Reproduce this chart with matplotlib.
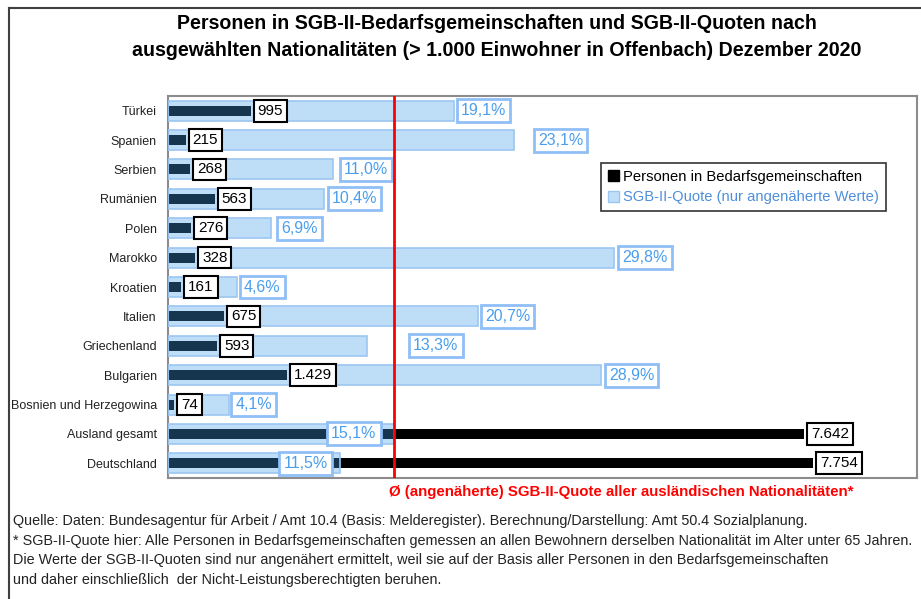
import matplotlib
matplotlib.use('Agg')
import matplotlib.pyplot as plt
from matplotlib import font_manager
from matplotlib.patches import Patch
from matplotlib.lines import Line2D

names = {f.name for f in font_manager.fontManager.ttflist}
narrow = 'Liberation Sans Narrow' if 'Liberation Sans Narrow' in names else 'Liberation Sans'
plt.rcParams['font.family'] = [narrow, 'DejaVu Sans']

countries = ['Türkei', 'Spanien', 'Serbien', 'Rumänien', 'Polen', 'Marokko', 'Kroatien',
             'Italien', 'Griechenland', 'Bulgarien', 'Bosnien und Herzegowina',
             'Ausland gesamt', 'Deutschland']
persons = [995, 215, 268, 563, 276, 328, 161, 675, 593, 1429, 74, 7642, 7754]
quote = [19.1, 23.1, 11.0, 10.4, 6.9, 29.8, 4.6, 20.7, 13.3, 28.9, 4.1, 15.1, 11.5]
avg_quote = 15.1

# pixel shift of the quote label box relative to bar end
quote_label_dx = [3, 20, 7, 4, 6, 4, 3, 3, 42, 4, 2, -67, -61]

title = ("Personen in SGB-II-Bedarfsgemeinschaften und SGB-II-Quoten nach\n"
         "ausgewählten Nationalitäten (> 1.000 Einwohner in Offenbach) Dezember 2020")
footer = [
    "Quelle: Daten: Bundesagentur für Arbeit / Amt 10.4 (Basis: Melderegister). Berechnung/Darstellung: Amt 50.4 Sozialplanung.",
    "* SGB-II-Quote hier: Alle Personen in Bedarfsgemeinschaften gemessen an allen Bewohnern derselben Nationalität im Alter unter 65 Jahren.",
    "Die Werte der SGB-II-Quoten sind nur angenähert ermittelt, weil sie auf der Basis aller Personen in den Bedarfsgemeinschaften",
    "und daher einschließlich  der Nicht-Leistungsberechtigten beruhen.",
]


def de_int(v):
    return f"{v:,}".replace(",", ".")


def de_pct(v):
    return f"{v:.1f}%".replace(".", ",")


W, H = 921, 599
fig = plt.figure(figsize=(W / 100, H / 100), dpi=100)
ax = fig.add_axes([168 / W, 1 - 478 / H, 749 / W, 382 / H])
ax2 = ax.twiny()

ypos = list(range(len(countries)))
ax.barh(ypos, persons, height=0.34, color='black', zorder=2)
ax2.barh(ypos, quote, height=0.68, facecolor=(66 / 255, 157 / 255, 232 / 255, 0.34),
         edgecolor='#9cc6f2', linewidth=1.2, zorder=2)

ax.set_xlim(0, 9000)
ax2.set_xlim(0, 50)
ax.set_ylim(12.5, -0.5)
ax.set_yticks(ypos, countries, fontsize=9.0)
ax.tick_params(axis='y', length=0, pad=8, colors='#222222')
ax.set_xticks([])
ax2.set_xticks([])
for sp in ax.spines.values():
    sp.set_color('#8c8c8c')
    sp.set_linewidth(1.5)
for sp in ax2.spines.values():
    sp.set_visible(False)

ax2.axvline(avg_quote, color='red', lw=2, zorder=8)

pad = 0.25
for i, v in enumerate(persons):
    fs = 11
    ax2.annotate(de_int(v), xy=(v, i), xycoords=ax.transData,
                 xytext=(3 + pad * fs * 100 / 72, 0), textcoords='offset pixels',
                 ha='left', va='center', fontsize=fs, zorder=6,
                 bbox=dict(boxstyle=f'square,pad={pad}', fc='white', ec='black', lw=1.5))
for i, v in enumerate(quote):
    fs = 11.5
    ax2.annotate(de_pct(v), xy=(v, i), xytext=(quote_label_dx[i] + pad * fs * 100 / 72, 0),
                 textcoords='offset pixels', ha='left', va='center',
                 fontsize=fs, color='#4a9eee', zorder=6,
                 bbox=dict(boxstyle=f'square,pad={pad}', fc='white', ec='#8ebff6', lw=2))

handles = [Patch(fc='black', ec='black'), Patch(fc='#bfdff8', ec='#9cc6f2')]
leg = ax2.legend(handles, ['Personen in Bedarfsgemeinschaften', 'SGB-II-Quote (nur angenäherte Werte)'],
                 loc='upper left', bbox_to_anchor=((601 - 168) / 749, (478 - 163) / 382),
                 borderaxespad=0, fontsize=10.6, frameon=True, fancybox=False,
                 edgecolor='black', handlelength=0.75, handleheight=0.75,
                 handletextpad=0.3, labelspacing=0.45, borderpad=0.45)
leg.get_frame().set_linewidth(1.2)
leg.set_zorder(7)
leg.get_texts()[1].set_color('#4e8fdb')

fig.text(497 / W, 1 - 37 / H, title, ha='center', va='center', fontsize=14.1,
         fontweight='bold', linespacing=1.55)
fig.text(621 / W, 1 - 492 / H,
         "Ø (angenäherte) SGB-II-Quote aller ausländischen Nationalitäten*",
         ha='center', va='center', fontsize=10.8, fontweight='bold', color='red')
for k, line in enumerate(footer):
    fig.text(13 / W, 1 - (521 + 19.7 * k) / H, line, ha='left', va='center', fontsize=10.4,
             color='#222222')

fig.add_artist(Line2D([9 / W, 1], [1 - 8 / H] * 2, transform=fig.transFigure,
                      color='#404040', lw=1.5))
fig.add_artist(Line2D([9 / W] * 2, [0, 1 - 8 / H], transform=fig.transFigure,
                      color='#404040', lw=1.5))

fig.savefig('out.png', dpi=100)
